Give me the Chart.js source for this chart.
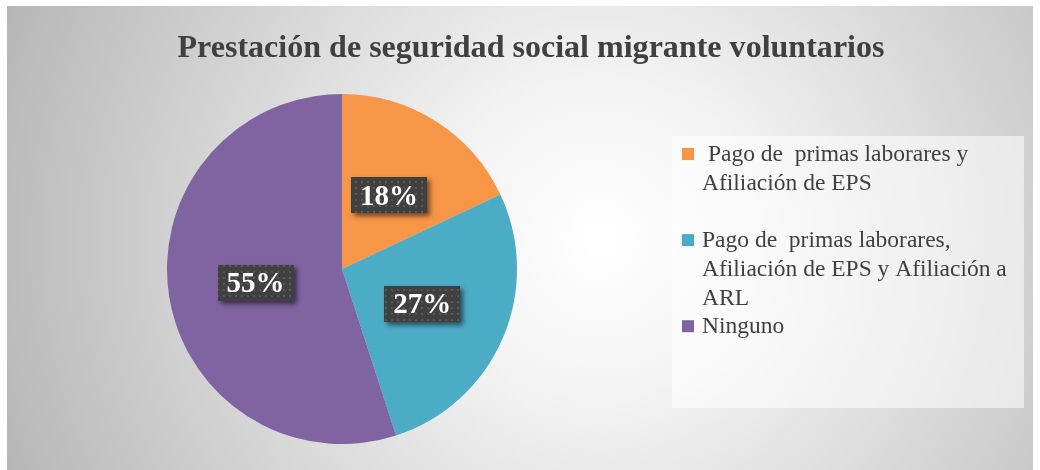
<!DOCTYPE html>
<html>
<head>
<meta charset="utf-8">
<script src="https://cdn.jsdelivr.net/npm/chart.js@4.4.1/dist/chart.umd.min.js"></script>
<style>
  html, body { margin: 0; padding: 0; background: #fff; }
  #wrap { position: absolute; left: 0; top: 0; width: 1040px; height: 470px; }
</style>
</head>
<body>
<div id="wrap"><canvas id="myChart" width="1040" height="470"></canvas></div>
<script>
const chartTitle = 'Prestación de seguridad social migrante voluntarios';
const labels = [
  ' Pago de  primas laborares y Afiliación de EPS',
  'Pago de  primas laborares, Afiliación de EPS y Afiliación a ARL',
  'Ninguno'
];
// legend lines as wrapped in the legend box
const legendLines = [
  [' Pago de  primas laborares y', 'Afiliación de EPS', ''],
  ['Pago de  primas laborares,', 'Afiliación de EPS y Afiliación a', 'ARL'],
  ['Ninguno']
];
const values = [18, 27, 55];
const colors = ['#F79646', '#4BACC6', '#8064A2'];

const SERIF = '"Liberation Serif", "DejaVu Serif", serif';

// draw text stretched horizontally to a given width
function fillFitted(ctx, txt, cx, y, width) {
  const w = ctx.measureText(txt).width;
  ctx.save();
  ctx.translate(cx, y);
  ctx.scale(width / w, 1);
  ctx.textAlign = 'center';
  ctx.fillText(txt, 0, 0);
  ctx.restore();
}

// gray radial background, legend panel and the title
const backdrop = {
  id: 'backdrop',
  beforeDraw(chart) {
    const ctx = chart.ctx;
    const x0 = 7, y0 = 6, w = 1026, h = 464;
    ctx.save();
    const g = ctx.createRadialGradient(600, 240, 0, 600, 240, 640);
    g.addColorStop(0, '#ffffff');
    g.addColorStop(0.25, '#f3f3f3');
    g.addColorStop(1, '#b6b6b6');
    ctx.fillStyle = g;
    ctx.fillRect(x0, y0, w, h);

    ctx.fillStyle = 'rgba(255,255,255,0.55)';
    ctx.fillRect(672, 136, 352, 272);

    ctx.fillStyle = '#404040';
    ctx.font = 'bold 31px ' + SERIF;
    ctx.textBaseline = 'alphabetic';
    fillFitted(ctx, chartTitle, 531, 57, 707);
    ctx.restore();
  }
};

// dotted dark label pattern
function makePattern(ctx) {
  const c = document.createElement('canvas');
  c.width = 6; c.height = 6;
  const p = c.getContext('2d');
  p.fillStyle = '#404040';
  p.fillRect(0, 0, 6, 6);
  p.fillStyle = '#585858';
  p.fillRect(1, 1, 2, 2);
  return ctx.createPattern(c, 'repeat');
}

const sliceLabels = {
  id: 'sliceLabels',
  afterDatasetsDraw(chart) {
    const ctx = chart.ctx;
    const meta = chart.getDatasetMeta(0);
    const pat = makePattern(ctx);
    ctx.save();
    ctx.font = 'bold 29px ' + SERIF;
    ctx.textAlign = 'center';
    ctx.textBaseline = 'middle';
    meta.data.forEach((arc, i) => {
      const pt = arc.getCenterPoint();
      const txt = values[i] + '%';
      const bw = 76, bh = 36;
      ctx.save();
      ctx.shadowColor = 'rgba(0,0,0,0.55)';
      ctx.shadowBlur = 5;
      ctx.shadowOffsetX = 3;
      ctx.shadowOffsetY = 3;
      ctx.fillStyle = pat;
      ctx.fillRect(Math.round(pt.x - bw / 2), Math.round(pt.y - bh / 2), bw, bh);
      ctx.restore();
      ctx.fillStyle = '#ffffff';
      ctx.fillText(txt, pt.x, pt.y + 2);
    });
    ctx.restore();
  }
};

const legendBox = {
  id: 'legendBox',
  afterDraw(chart) {
    const ctx = chart.ctx;
    ctx.save();
    ctx.font = '23.5px ' + SERIF;
    ctx.textBaseline = 'middle';
    ctx.textAlign = 'left';
    let y = 155;
    const lh = 28.7;
    legendLines.forEach((lines, i) => {
      ctx.fillStyle = colors[i];
      ctx.fillRect(682, y - 7, 12, 12);
      ctx.fillStyle = '#404040';
      lines.forEach((ln, j) => {
        ctx.fillText(ln, 702, y + j * lh);
      });
      y += lines.length * lh;
    });
    ctx.restore();
  }
};

new Chart(document.getElementById('myChart'), {
  type: 'pie',
  data: {
    labels: labels,
    datasets: [{
      data: values,
      backgroundColor: colors,
      borderWidth: 0
    }]
  },
  options: {
    responsive: false,
    animation: false,
    rotation: 0,
    layout: { padding: { left: 167, right: 523, top: 94, bottom: 26 } },
    plugins: {
      legend: { display: false },
      title: { display: false },
      tooltip: { enabled: false }
    }
  },
  plugins: [backdrop, sliceLabels, legendBox]
});
</script>
</body>
</html>
